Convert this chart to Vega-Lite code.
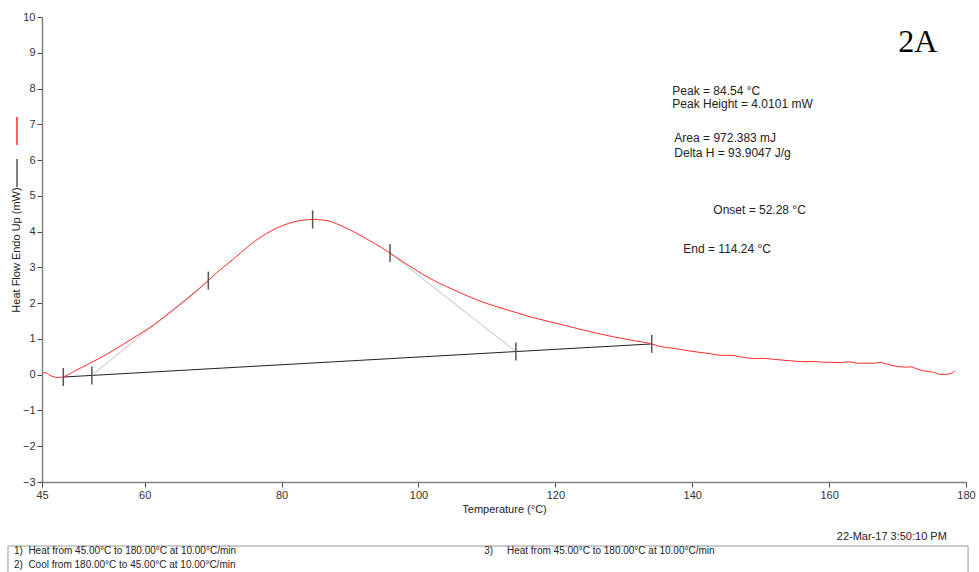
{
  "$schema": "https://vega.github.io/schema/vega-lite/v6.json",
  "width": 924,
  "height": 465,
  "autosize": {"type": "none"},
  "padding": {"left": 42, "top": 17, "right": 13, "bottom": 90},
  "background": "white",
  "config": {
    "view": {"stroke": null},
    "axis": {
      "grid": false,
      "domainColor": "#808080",
      "domainWidth": 1.5,
      "tickColor": "#444444",
      "tickSize": 5,
      "labelFont": "Liberation Sans",
      "labelFontSize": 11,
      "labelColor": "#333333",
      "titleFont": "Liberation Sans",
      "titleFontSize": 11,
      "titleFontWeight": "normal",
      "titleColor": "#222222"
    },
    "text": {"font": "Liberation Sans", "color": "#222222"}
  },
  "datasets": {
    "curve": [
      {"series": "Sample", "T": 45.00, "v": 0.03},
      {"series": "Sample", "T": 45.44, "v": 0.06},
      {"series": "Sample", "T": 46.17, "v": -0.02},
      {"series": "Sample", "T": 47.38, "v": -0.08},
      {"series": "Sample", "T": 48.11, "v": -0.06},
      {"series": "Sample", "T": 49.57, "v": 0.08},
      {"series": "Sample", "T": 52.01, "v": 0.32},
      {"series": "Sample", "T": 54.45, "v": 0.57},
      {"series": "Sample", "T": 56.88, "v": 0.85},
      {"series": "Sample", "T": 59.32, "v": 1.14},
      {"series": "Sample", "T": 61.76, "v": 1.45},
      {"series": "Sample", "T": 64.18, "v": 1.81},
      {"series": "Sample", "T": 66.62, "v": 2.18},
      {"series": "Sample", "T": 69.30, "v": 2.63},
      {"series": "Sample", "T": 70.52, "v": 2.85},
      {"series": "Sample", "T": 72.95, "v": 3.23},
      {"series": "Sample", "T": 75.39, "v": 3.63},
      {"series": "Sample", "T": 77.83, "v": 3.95},
      {"series": "Sample", "T": 80.26, "v": 4.18},
      {"series": "Sample", "T": 82.70, "v": 4.31},
      {"series": "Sample", "T": 84.64, "v": 4.34},
      {"series": "Sample", "T": 86.60, "v": 4.31},
      {"series": "Sample", "T": 88.54, "v": 4.18},
      {"series": "Sample", "T": 90.98, "v": 3.95},
      {"series": "Sample", "T": 93.41, "v": 3.69},
      {"series": "Sample", "T": 95.85, "v": 3.40},
      {"series": "Sample", "T": 97.31, "v": 3.21},
      {"series": "Sample", "T": 99.25, "v": 2.97},
      {"series": "Sample", "T": 101.69, "v": 2.69},
      {"series": "Sample", "T": 104.13, "v": 2.46},
      {"series": "Sample", "T": 106.56, "v": 2.25},
      {"series": "Sample", "T": 108.99, "v": 2.06},
      {"series": "Sample", "T": 111.43, "v": 1.90},
      {"series": "Sample", "T": 113.86, "v": 1.76},
      {"series": "Sample", "T": 116.30, "v": 1.62},
      {"series": "Sample", "T": 118.74, "v": 1.50},
      {"series": "Sample", "T": 121.17, "v": 1.39},
      {"series": "Sample", "T": 123.61, "v": 1.27},
      {"series": "Sample", "T": 126.04, "v": 1.16},
      {"series": "Sample", "T": 128.48, "v": 1.06},
      {"series": "Sample", "T": 130.91, "v": 0.97},
      {"series": "Sample", "T": 134.08, "v": 0.86},
      {"series": "Sample", "T": 135.29, "v": 0.79},
      {"series": "Sample", "T": 137.24, "v": 0.74},
      {"series": "Sample", "T": 139.68, "v": 0.66},
      {"series": "Sample", "T": 142.11, "v": 0.60},
      {"series": "Sample", "T": 144.54, "v": 0.54},
      {"series": "Sample", "T": 145.80, "v": 0.54},
      {"series": "Sample", "T": 146.98, "v": 0.50},
      {"series": "Sample", "T": 149.42, "v": 0.45},
      {"series": "Sample", "T": 150.20, "v": 0.46},
      {"series": "Sample", "T": 151.85, "v": 0.43},
      {"series": "Sample", "T": 154.29, "v": 0.39},
      {"series": "Sample", "T": 156.73, "v": 0.36},
      {"series": "Sample", "T": 157.50, "v": 0.37},
      {"series": "Sample", "T": 159.15, "v": 0.35},
      {"series": "Sample", "T": 161.59, "v": 0.34},
      {"series": "Sample", "T": 163.05, "v": 0.36},
      {"series": "Sample", "T": 164.03, "v": 0.32},
      {"series": "Sample", "T": 166.46, "v": 0.32},
      {"series": "Sample", "T": 167.44, "v": 0.34},
      {"series": "Sample", "T": 168.90, "v": 0.27},
      {"series": "Sample", "T": 171.34, "v": 0.21},
      {"series": "Sample", "T": 172.00, "v": 0.22},
      {"series": "Sample", "T": 172.55, "v": 0.18},
      {"series": "Sample", "T": 173.77, "v": 0.11},
      {"series": "Sample", "T": 175.23, "v": 0.07},
      {"series": "Sample", "T": 176.21, "v": 0.01},
      {"series": "Sample", "T": 177.19, "v": 0.01},
      {"series": "Sample", "T": 177.92, "v": 0.04},
      {"series": "Sample", "T": 178.40, "v": 0.11}
    ],
    "baseline": [
      {"T": 48.11, "v": -0.065},
      {"T": 134.08, "v": 0.86}
    ],
    "tangents": [
      {"seg": "onset", "T": 52.28, "v": -0.02},
      {"seg": "onset", "T": 69.30, "v": 2.63},
      {"seg": "end", "T": 95.85, "v": 3.40},
      {"seg": "end", "T": 114.24, "v": 0.646}
    ],
    "markers": [
      {"T": 48.11, "v": -0.065},
      {"T": 52.28, "v": -0.02},
      {"T": 69.30, "v": 2.63},
      {"T": 84.54, "v": 4.34},
      {"T": 95.85, "v": 3.40},
      {"T": 114.24, "v": 0.646},
      {"T": 134.08, "v": 0.86}
    ],
    "notes": [
      {"label": "Peak = 84.54 °C", "T": 137.09, "v": 7.94},
      {"label": "Peak Height = 4.0101 mW", "T": 137.09, "v": 7.56},
      {"label": "Area = 972.383 mJ", "T": 137.39, "v": 6.61},
      {"label": "Delta H = 93.9047 J/g", "T": 137.39, "v": 6.21},
      {"label": "Onset = 52.28 °C", "T": 143.08, "v": 4.60},
      {"label": "End = 114.24 °C", "T": 138.70, "v": 3.51}
    ],
    "panel": [
      {"label": "2A", "T": 172.95, "v": 9.30}
    ],
    "stamp": [
      {"label": "22-Mar-17 3:50:10 PM", "T": 177.2, "v": -4.54}
    ],
    "steps": [
      {"label": "1)\u00a0\u00a0Heat from 45.00°C to 180.00°C at 10.00°C/min", "T": 40.9, "v": -4.93},
      {"label": "2)\u00a0\u00a0Cool from 180.00°C to 45.00°C at 10.00°C/min", "T": 40.9, "v": -5.32},
      {"label": "3)\u00a0\u00a0\u00a0\u00a0\u00a0Heat from 45.00°C to 180.00°C at 10.00°C/min", "T": 109.6, "v": -4.93}
    ],
    "box": [
      {"T1": 40.03, "T2": 180.3, "v1": -4.79, "v2": -5.7}
    ]
  },
  "encoding": {
    "x": {
      "field": "T", "type": "quantitative",
      "scale": {"domain": [45, 180], "nice": false, "zero": false},
      "axis": {"title": "Temperature (°C)", "values": [45, 60, 80, 100, 120, 140, 160, 180], "labelFlush": false, "labelPadding": 2, "titlePadding": 3}
    },
    "y": {
      "field": "v", "type": "quantitative",
      "scale": {"domain": [-3, 10], "nice": false, "zero": false},
      "axis": {"title": "Heat Flow Endo Up (mW)", "values": [-3, -2, -1, 0, 1, 2, 3, 4, 5, 6, 7, 8, 9, 10], "labelPadding": 2, "titlePadding": 1}
    }
  },
  "layer": [
    {
      "data": {"name": "baseline"},
      "mark": {"type": "line", "color": "#222222", "strokeWidth": 1},
      "encoding": {}
    },
    {
      "data": {"name": "tangents"},
      "mark": {"type": "line", "color": "#c0c0c0", "strokeWidth": 1},
      "encoding": {"detail": {"field": "seg"}}
    },
    {
      "data": {"name": "curve"},
      "mark": {"type": "line", "strokeWidth": 1, "interpolate": "monotone"},
      "encoding": {
        "color": {
          "field": "series", "type": "nominal",
          "scale": {"domain": ["Sample", "Reference"], "range": ["#ff2a2a", "#555555"]},
          "legend": {
            "orient": "none", "legendX": -40, "legendY": 99,
            "direction": "vertical", "title": null, "padding": 0,
            "symbolType": "M0,-1L0,1", "symbolSize": 784, "symbolStrokeWidth": 1.5,
            "labelExpr": "''", "rowPadding": 8
          }
        }
      }
    },
    {
      "data": {"name": "markers"},
      "mark": {"type": "point", "shape": "M0,-1L0,1", "size": 324, "filled": false, "stroke": "#555555", "strokeWidth": 1.5, "opacity": 1}
    },
    {
      "data": {"name": "notes"},
      "mark": {"type": "text", "align": "left", "baseline": "middle", "fontSize": 12},
      "encoding": {"text": {"field": "label"}}
    },
    {
      "data": {"name": "panel"},
      "mark": {"type": "text", "align": "center", "baseline": "middle", "fontSize": 32, "font": "Liberation Serif", "color": "#000000"},
      "encoding": {"text": {"field": "label"}}
    },
    {
      "data": {"name": "stamp"},
      "mark": {"type": "text", "align": "right", "baseline": "middle", "fontSize": 11},
      "encoding": {"text": {"field": "label"}}
    },
    {
      "data": {"name": "box"},
      "mark": {"type": "rect", "fill": null, "fillOpacity": 0, "stroke": "#999999", "strokeWidth": 1},
      "encoding": {
        "x": {"field": "T1", "type": "quantitative"},
        "x2": {"field": "T2"},
        "y": {"field": "v1", "type": "quantitative"},
        "y2": {"field": "v2"}
      }
    },
    {
      "data": {"name": "steps"},
      "mark": {"type": "text", "align": "left", "baseline": "middle", "fontSize": 10},
      "encoding": {"text": {"field": "label"}}
    }
  ]
}
